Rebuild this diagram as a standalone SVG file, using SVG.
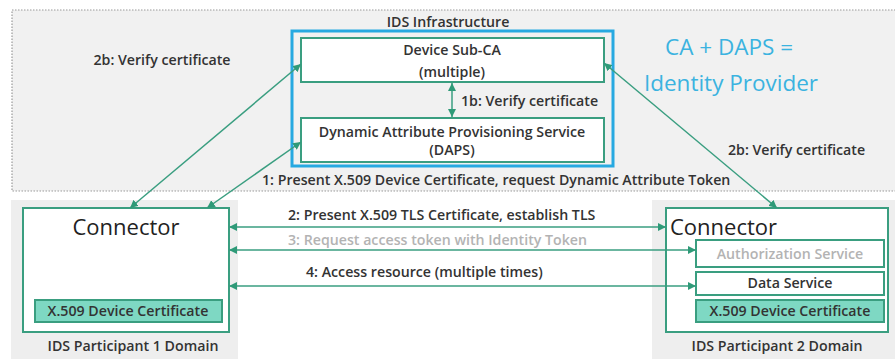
<svg xmlns="http://www.w3.org/2000/svg" width="895" height="359" viewBox="0 0 895 359">
  <style>
    text { font-family: "Open Sans", "Liberation Sans", sans-serif; font-weight: 600; fill: #333; }
    .lbl { font-size: 14.2px; }
    .mid { text-anchor: middle; }
    .big { font-size: 22px; font-weight: 400; fill: #222; }
    .idp { font-size: 22.5px; font-weight: 400; fill: #3bb3e0; text-anchor: middle; }
    .faint { fill: #b3b3b3; }
    .box { fill: #ffffff; stroke: #3a9e80; stroke-width: 2; }
    .cert { fill: #7ed8c3; stroke: #3a9e80; stroke-width: 2; }
    .domain { fill: #eeeeee; }
    .link { fill: none; stroke: #3a9e80; stroke-width: 1.5; marker-start: url(#head); marker-end: url(#head); }
  </style>
  <defs>
    <marker id="head" viewBox="0 0 10 10" refX="10" refY="5" markerWidth="8" markerHeight="8" markerUnits="userSpaceOnUse" orient="auto-start-reverse">
      <path d="M0,0 L10,5 L0,10 z" fill="#2f9a78"/>
    </marker>
  </defs>

  <rect width="895" height="359" fill="#ffffff"/>

  <!-- IDS infrastructure area -->
  <g id="infrastructure">
    <rect x="12" y="10" width="890" height="181" fill="#f1f1f1" stroke="#9a9a9a" stroke-width="1.2" stroke-dasharray="1.5 1.5"/>
    <text class="lbl mid" x="448" y="27">IDS Infrastructure</text>
  </g>

  <!-- identity provider frame -->
  <g id="identity-provider">
    <rect x="292" y="31" width="321" height="135" fill="none" stroke="#27a9e1" stroke-width="3"/>
    <text class="idp" x="729" y="55">CA + DAPS =</text>
    <text class="idp" x="731" y="91">Identity Provider</text>
  </g>

  <g id="device-sub-ca">
    <rect class="box" x="301" y="38" width="303" height="44"/>
    <text class="lbl mid" x="452" y="55">Device Sub-CA</text>
    <text class="lbl mid" x="452" y="77">(multiple)</text>
  </g>

  <g id="daps">
    <rect class="box" x="301" y="118" width="303" height="44"/>
    <text class="lbl mid" x="452" y="137">Dynamic Attribute Provisioning Service</text>
    <text class="lbl mid" x="452" y="155">(DAPS)</text>
  </g>

  <!-- participant 1 -->
  <g id="participant-1">
    <rect class="domain" x="11" y="200" width="227" height="159"/>
    <rect class="box" x="23" y="208" width="206" height="124"/>
    <text class="big mid" x="126" y="235">Connector</text>
    <rect class="cert" x="35" y="300" width="187" height="22"/>
    <text class="lbl mid" x="128" y="316">X.509 Device Certificate</text>
    <text class="lbl mid" x="133" y="351">IDS Participant 1 Domain</text>
  </g>

  <!-- participant 2 -->
  <g id="participant-2">
    <rect class="domain" x="652" y="200" width="243" height="159"/>
    <rect class="box" x="666" y="208" width="222" height="124"/>
    <text class="big" x="670" y="235">Connector</text>
    <g id="authorization-service">
      <rect class="box" x="696" y="240" width="188" height="27"/>
      <text class="lbl mid faint" x="790" y="259">Authorization Service</text>
    </g>
    <g id="data-service">
      <rect class="box" x="696" y="272" width="188" height="23"/>
      <text class="lbl mid" x="790" y="288">Data Service</text>
    </g>
    <rect class="cert" x="696" y="300" width="188" height="22"/>
    <text class="lbl mid" x="790" y="316">X.509 Device Certificate</text>
    <text class="lbl mid" x="777" y="351">IDS Participant 2 Domain</text>
  </g>

  <!-- connectors -->
  <g id="connectors">
    <line class="link" x1="452" y1="83" x2="452" y2="117"/>
    <line class="link" x1="301" y1="64" x2="130" y2="208"/>
    <line class="link" x1="301" y1="142" x2="207" y2="208"/>
    <line class="link" x1="604" y1="63" x2="777" y2="208"/>
    <line class="link" x1="229" y1="227" x2="666" y2="227"/>
    <line class="link" x1="229" y1="250" x2="696" y2="250"/>
    <line class="link" x1="229" y1="286" x2="696" y2="286"/>
  </g>

  <!-- connector labels -->
  <g id="labels">
    <text class="lbl" x="461" y="106">1b: Verify certificate</text>
    <text class="lbl mid" x="162" y="65">2b: Verify certificate</text>
    <text class="lbl" x="728" y="155">2b: Verify certificate</text>
    <text class="lbl" x="262" y="185">1: Present X.509 Device Certificate, request Dynamic Attribute Token</text>
    <text class="lbl" x="288" y="220">2: Present X.509 TLS Certificate, establish TLS</text>
    <text class="lbl faint" x="288" y="245">3: Request access token with Identity Token</text>
    <text class="lbl" x="306" y="277">4: Access resource (multiple times)</text>
  </g>
</svg>
